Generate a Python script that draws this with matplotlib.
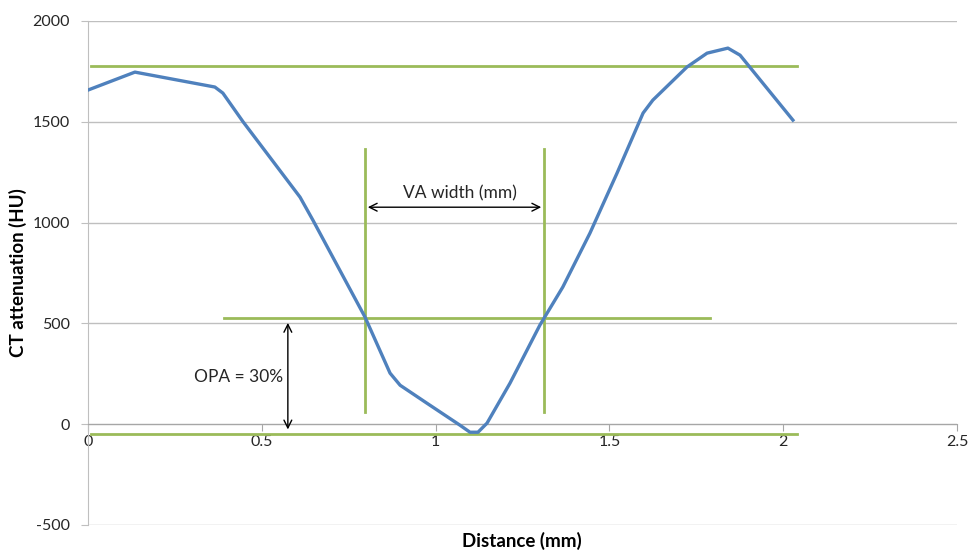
import matplotlib.pyplot as plt

plt.rcParams['font.family'] = ['Lato', 'DejaVu Sans']
plt.rcParams['axes.unicode_minus'] = False

# profile of CT attenuation across the vessel
dist = [0.0, 0.135, 0.365, 0.388, 0.446, 0.61, 0.647, 0.797, 0.869, 0.898, 0.975, 1.07,
        1.099, 1.122, 1.148, 1.214, 1.30, 1.366, 1.444, 1.522, 1.597, 1.625, 1.723, 1.781,
        1.841, 1.876, 2.028]
hu = [1657, 1746, 1672, 1642, 1500, 1126, 1012, 531, 253, 193, 104, -5,
      -40, -40, 5, 203, 491, 680, 947, 1245, 1543, 1607, 1771, 1840,
      1865, 1830, 1508]

# green construction lines
top_level = 1775
bottom_level = -50
half_level = 526
hline_x = [0.01, 2.04]
half_x = [0.39, 1.79]
va_x = [0.797, 1.312]
va_y = [62, 1365]
opa_x = 0.575

blue = '#4F81BD'
green = '#9BBB59'
grey = '#BFBFBF'

fig = plt.figure(figsize=(9.68, 5.5), dpi=100)
ax = fig.add_axes([0.0909, 0.0455, 0.8977, 0.9165])

ax.plot(dist, hu, color=blue, lw=2.4, zorder=4, solid_joinstyle='round')

ax.plot(hline_x, [top_level, top_level], color=green, lw=2, zorder=3)
ax.plot(hline_x, [bottom_level, bottom_level], color=green, lw=2, zorder=3)
ax.plot(half_x, [half_level, half_level], color=green, lw=2, zorder=3)
for xv in va_x:
    ax.plot([xv, xv], va_y, color=green, lw=2, zorder=3)

ax.annotate('', xy=(va_x[0], 1076), xytext=(va_x[1], 1076),
            arrowprops=dict(arrowstyle='<->', color='black', lw=1, mutation_scale=14))
ax.text(1.07, 1146, 'VA width (mm)', ha='center', va='center', fontsize=12.5, color='#262626')

ax.annotate('', xy=(opa_x, half_level - 10), xytext=(opa_x, -40),
            arrowprops=dict(arrowstyle='<->', color='black', lw=1, mutation_scale=14))
ax.text(0.56, 233, 'OPA = 30%', ha='right', va='center', fontsize=12.5, color='#262626')

ax.set_xlim(0, 2.5)
ax.set_ylim(-500, 2000)
ax.set_xticks([0, 0.5, 1, 1.5, 2, 2.5])
ax.set_xticklabels(['0', '0.5', '1', '1.5', '2', '2.5'])
ax.set_yticks([-500, 0, 500, 1000, 1500, 2000])

ax.spines['bottom'].set_position(('data', 0))
ax.spines['bottom'].set_color('#A6A6A6')
ax.spines['left'].set_color(grey)
ax.spines['top'].set_visible(False)
ax.spines['right'].set_visible(False)
ax.grid(axis='y', color=grey, lw=1)
ax.set_axisbelow(True)
ax.tick_params(axis='x', direction='out', length=5, color='#A6A6A6', labelsize=11.5,
               labelcolor='#262626', pad=3)
ax.tick_params(axis='y', direction='out', length=5, color=grey, labelsize=11.5,
               labelcolor='#262626', pad=8)

ax.set_ylabel('CT attenuation (HU)', fontsize=13.5, fontweight='bold', labelpad=4)
fig.text(0.539, 0.016, 'Distance (mm)', ha='center', va='center', fontsize=13.5, fontweight='bold')

fig.savefig('out.png', dpi=100)
